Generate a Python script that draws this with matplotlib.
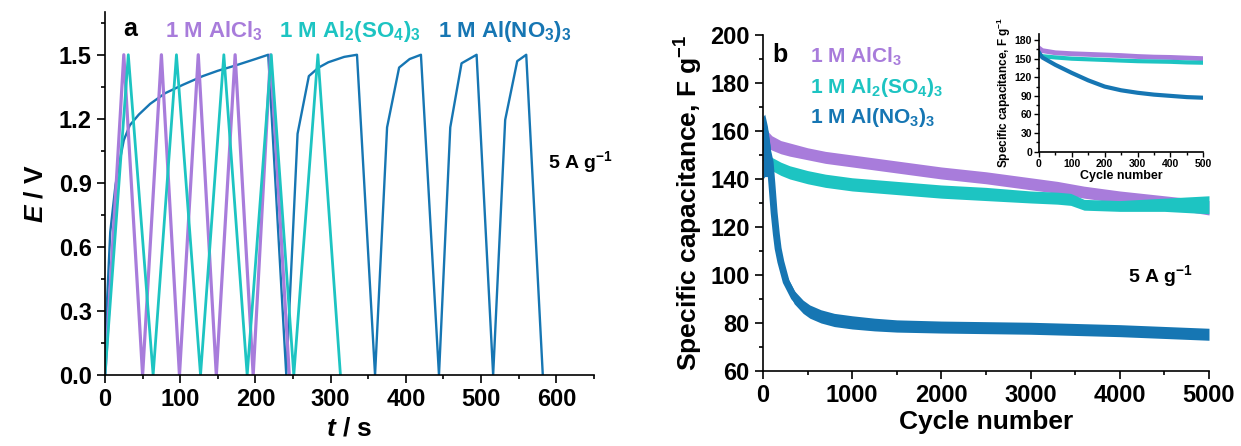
import matplotlib
matplotlib.use("Agg")
import matplotlib.pyplot as plt
from matplotlib.ticker import MultipleLocator

plt.rcParams['font.family'] = ['Liberation Sans', 'DejaVu Sans']
plt.rcParams['font.weight'] = 'bold'
plt.rcParams['mathtext.fontset'] = 'custom'
plt.rcParams['mathtext.rm'] = 'Liberation Sans:bold'
plt.rcParams['mathtext.it'] = 'Liberation Sans:italic:bold'
plt.rcParams['mathtext.bf'] = 'Liberation Sans:bold'
plt.rcParams['axes.linewidth'] = 1.2

C_CL = '#A87CDB'
C_SO4 = '#1DC4C2'
C_NO3 = '#1676B3'

# ---------------- panel a: GCD curves ----------------
t_alcl3 = [0, 25, 50, 75, 99, 124, 148, 173, 197, 220, 245]
E_alcl3 = [0, 1.5, 0, 1.5, 0, 1.5, 0, 1.5, 0, 1.5, 0]

t_al2so43 = [0, 31, 64, 95, 127, 158, 189, 221, 251, 283, 313]
E_al2so43 = [0, 1.5, 0, 1.5, 0, 1.5, 0, 1.5, 0, 1.5, 0]

t_alno33 = [0, 2, 7, 14, 20, 25, 33, 45, 60, 80, 104, 130, 150, 171, 200, 217,
            241, 256, 271, 284, 297, 318, 335,
            359, 375, 391, 405, 420,
            444, 459, 474, 494,
            516, 532, 548, 560, 582]
E_alno33 = [0, 0.29, 0.67, 0.89, 1.01, 1.10, 1.17, 1.22, 1.27, 1.32, 1.36, 1.40, 1.425, 1.447, 1.48, 1.5,
            0, 1.13, 1.40, 1.44, 1.465, 1.49, 1.5,
            0, 1.16, 1.44, 1.48, 1.5,
            0, 1.16, 1.46, 1.5,
            0, 1.195, 1.47, 1.5, 0]

# ---------------- panel b: cycling ----------------
cyc_cl = [0, 50, 100, 200, 300, 500, 700, 1000, 1500, 2000, 2500, 3000, 3300, 3450, 3600, 4000, 4500, 5000]
cl_hi = [164, 160, 158, 156, 155, 153, 151.5, 150, 147.5, 145, 143, 140.5, 139, 138, 137, 135, 133, 131]
cl_lo = [157, 153, 152, 150.5, 149.5, 148, 146.5, 145, 142.5, 140, 138, 135.5, 134, 133, 132, 130, 128, 125]

cyc_so4 = [0, 50, 100, 200, 300, 500, 700, 1000, 1500, 2000, 2500, 3000, 3300, 3450, 3600, 4000, 4500, 5000]
so4_hi = [158, 151, 149, 147, 145.5, 143.5, 142, 140.5, 139, 137.5, 136.5, 135, 134.5, 134, 131.5, 131, 132, 133]
so4_lo = [148, 145, 143.5, 141.5, 140, 138, 136.5, 135, 133.5, 132, 131, 130, 129.5, 129, 127, 126.5, 126.5, 125.5]

cyc_no3 = [0, 20, 50, 80, 100, 125, 150, 170, 200, 260, 350, 450, 525, 650, 800, 1000, 1250, 1500, 2000, 3000, 4000, 5000]
no3_hi = [166, 167, 162, 154, 142, 129, 120, 114, 108.5, 100, 93.5, 89.5, 87.5, 85.5, 84, 83, 82, 81.3, 80.8, 80.3, 79.3, 77.8]
no3_lo = [140, 141, 141, 140, 134, 123, 114, 108.5, 103, 94.5, 88, 84, 82, 80, 78.5, 77.5, 76.7, 76.2, 75.8, 75.3, 74.3, 72.8]
no3_mid = [152, 160, 152, 147, 138, 126, 117, 111, 105.5, 97.2, 90.7, 86.7, 84.7, 82.7, 81.3, 80.2, 79.4, 78.8, 78.3, 77.8, 76.8, 75.3]

# inset (first 500 cycles)
cyc_in = [0, 10, 50, 100, 150, 200, 250, 300, 350, 400, 450, 500]
in_cl = [167, 163, 159.5, 158, 157, 156, 155, 153.5, 152.5, 152, 151, 150]
in_so4 = [156, 154, 152, 150, 149, 148, 147, 146, 145.5, 145, 144, 143.5]
in_no3 = [160, 152, 140, 127, 115, 105, 99, 95, 92, 90, 88, 87]

fig = plt.figure(figsize=(12.41, 4.46), dpi=100)

# ---- panel a ----
ax = fig.add_axes([0.0846, 0.159, 0.394, 0.814])
ax.plot(t_alno33, E_alno33, color=C_NO3, lw=1.7)
ax.plot(t_alcl3, E_alcl3, color=C_CL, lw=2.3)
ax.plot(t_al2so43, E_al2so43, color=C_SO4, lw=2.0)
ax.set_xlim(0, 650)
ax.set_ylim(0, 1.7)
ax.xaxis.set_major_locator(MultipleLocator(100))
ax.xaxis.set_minor_locator(MultipleLocator(50))
ax.yaxis.set_minor_locator(MultipleLocator(0.15))
ax.set_yticks([0, 0.3, 0.6, 0.9, 1.2, 1.5])
ax.yaxis.set_major_formatter(matplotlib.ticker.FormatStrFormatter('%.1f'))
ax.set_xlabel('$t$ / s', fontsize=19, fontweight='bold', labelpad=4)
ax.set_ylabel('$E$ / V', fontsize=19, fontweight='bold', labelpad=8)
ax.text(0.037, 0.934, 'a', transform=ax.transAxes, fontsize=18, fontweight='bold', va='baseline')
ax.text(0.1227, 0.931, '1 M AlCl$_3$', transform=ax.transAxes, fontsize=16, color=C_CL, va='baseline')
ax.text(0.356, 0.931, '1 M Al$_2$(SO$_4$)$_3$', transform=ax.transAxes, fontsize=16, color=C_SO4, va='baseline')
ax.text(0.681, 0.931, '1 M Al(NO$_3$)$_3$', transform=ax.transAxes, fontsize=16, color=C_NO3, va='baseline')
ax.text(0.906, 0.570, '5 A g$^{-1}$', transform=ax.transAxes, fontsize=14, va='baseline')

# ---- panel b ----
bx = fig.add_axes([0.6148, 0.1682, 0.3594, 0.7534])
bx.fill_between(cyc_cl, cl_lo, cl_hi, color=C_CL, lw=0)
bx.fill_between(cyc_so4, so4_lo, so4_hi, color=C_SO4, lw=0)
bx.fill_between(cyc_no3, no3_lo, no3_hi, color=C_NO3, lw=0)
bx.plot(cyc_no3, no3_mid, color=C_NO3, lw=5, solid_capstyle='butt')
bx.set_xlim(0, 5000)
bx.set_ylim(60, 200)
bx.xaxis.set_major_locator(MultipleLocator(1000))
bx.xaxis.set_minor_locator(MultipleLocator(500))
bx.yaxis.set_major_locator(MultipleLocator(20))
bx.yaxis.set_minor_locator(MultipleLocator(10))
bx.set_xlabel('Cycle number', fontsize=19, fontweight='bold', labelpad=2)
bx.set_ylabel('Specific capacitance, F g$^{-1}$', fontsize=19, fontweight='bold', labelpad=4)
bx.text(0.02, 0.920, 'b', transform=bx.transAxes, fontsize=18, fontweight='bold', va='baseline')
bx.text(0.105, 0.917, '1 M AlCl$_3$', transform=bx.transAxes, fontsize=15, color=C_CL, va='baseline')
bx.text(0.105, 0.827, '1 M Al$_2$(SO$_4$)$_3$', transform=bx.transAxes, fontsize=15, color=C_SO4, va='baseline')
bx.text(0.105, 0.738, '1 M Al(NO$_3$)$_3$', transform=bx.transAxes, fontsize=15, color=C_NO3, va='baseline')
bx.text(0.818, 0.265, '5 A g$^{-1}$', transform=bx.transAxes, fontsize=14, va='baseline')

for a in (ax, bx):
    for s in ('top', 'right'):
        a.spines[s].set_visible(False)
    a.tick_params(which='major', direction='out', length=6, width=1.2, labelsize=17)
    a.tick_params(which='minor', direction='out', length=3, width=1.2)
    for lab in a.get_xticklabels() + a.get_yticklabels():
        lab.set_fontweight('bold')

# ---- inset ----
ix = fig.add_axes([0.8372, 0.660, 0.1324, 0.264])
ix.plot(cyc_in, in_cl, color=C_CL, lw=3.5)
ix.plot(cyc_in, in_so4, color=C_SO4, lw=3.0)
ix.plot(cyc_in, in_no3, color=C_NO3, lw=3.0)
ix.set_xlim(0, 500)
ix.set_ylim(0, 190)
ix.xaxis.set_major_locator(MultipleLocator(100))
ix.xaxis.set_minor_locator(MultipleLocator(50))
ix.yaxis.set_major_locator(MultipleLocator(30))
ix.yaxis.set_minor_locator(MultipleLocator(15))
for s in ('top', 'right'):
    ix.spines[s].set_visible(False)
ix.tick_params(which='major', direction='out', length=3.5, width=1, labelsize=7.5, pad=1.5)
ix.tick_params(which='minor', direction='out', length=2, width=1)
for lab in ix.get_xticklabels() + ix.get_yticklabels():
    lab.set_fontweight('bold')
ix.set_xlabel('Cycle number', fontsize=9, fontweight='bold', labelpad=1)
ix.set_ylabel('Specific capacitance, F g$^{-1}$', fontsize=8.5, fontweight='bold', labelpad=1)

fig.savefig('out.png', dpi=100)
